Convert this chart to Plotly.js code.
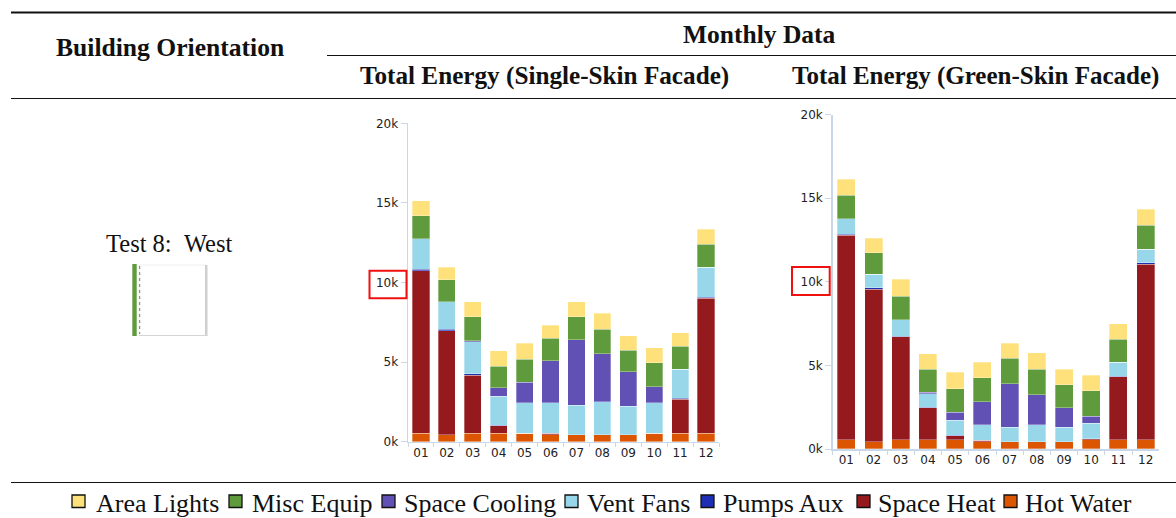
<!DOCTYPE html>
<html><head><meta charset="utf-8">
<script src="https://cdn.plot.ly/plotly-3.0.1.min.js"></script>
<style>html,body{margin:0;padding:0;background:#fff}#c{width:1176px;height:518px}</style>
</head><body><div id="c"></div>
<script>
const months = ['01','02','03','04','05','06','07','08','09','10','11','12'];
const yTickVals = [0,5000,10000,15000,20000];
const yTickText = ['0k','5k','10k','15k','20k'];
const seriesNames = ['Hot Water','Space Heat','Pumps Aux','Vent Fans','Space Cooling','Misc Equip','Area Lights'];
const seriesColors = ['#DC5500','#951A1D','#1F2FB5','#98D6E9','#6151B5','#5F9A3C','#FEE17B'];

// Single-skin facade
const hotWaterA   = [520,440,520,520,520,440,440,440,440,520,520,520];
const spaceHeatA  = [10220,6530,3670,480,0,80,0,0,0,0,2140,8480];
const pumpsAuxA   = [80,80,80,40,0,0,0,0,0,0,80,80];
const ventFansA   = [1930,1750,2010,1830,1930,1930,1860,2070,1800,1930,1800,1890];
const coolingA    = [0,0,60,520,1300,2620,4110,3020,2140,1010,0,0];
const miscEquipA  = [1450,1360,1510,1360,1440,1420,1440,1530,1380,1500,1450,1430];
const areaLightsA = [920,810,950,950,1010,840,950,1020,880,940,860,940];

// Green-skin facade
const hotWaterB   = [540,440,540,540,540,440,440,440,440,560,540,540];
const spaceHeatB  = [12240,9130,6180,1930,260,80,0,0,0,40,3790,10510];
const pumpsAuxB   = [80,80,20,20,20,0,0,0,0,0,20,80];
const ventFansB   = [920,800,980,820,910,940,860,1020,860,940,830,830];
const coolingB    = [0,0,0,80,460,1370,2590,1790,1170,410,0,0];
const miscEquipB  = [1410,1290,1430,1380,1420,1440,1530,1520,1360,1520,1380,1440];
const areaLightsB = [940,880,1020,930,990,910,920,990,940,940,940,940];

const legendOrder = ['Area Lights','Misc Equip','Space Cooling','Vent Fans','Pumps Aux','Space Heat','Hot Water'];
const legendSwatchX = [72,229,382,565,701,857,1004];
const legendTextX = [94,250,402,585,721,876,1023];

const W = 1176, H = 518;
const px = v => v / W, py = v => 1 - v / H;
const stackA = [hotWaterA,spaceHeatA,pumpsAuxA,ventFansA,coolingA,miscEquipA,areaLightsA];
const stackB = [hotWaterB,spaceHeatB,pumpsAuxB,ventFansB,coolingB,miscEquipB,areaLightsB];
const traces = [];
[[stackA,'x','y'],[stackB,'x2','y2']].forEach(([stack,xa,ya]) => {
  stack.forEach((vals,i) => traces.push({
    type:'bar', x:months, y:vals, name:seriesNames[i], xaxis:xa, yaxis:ya,
    marker:{color:seriesColors[i], line:{color:'rgba(255,255,255,0.45)', width:0.7}},
    showlegend:false, hoverinfo:'skip'
  }));
});

const axisCol = '#C9D7E8', tickFont = {family:'DejaVu Sans', size:12, color:'#222'};
const xAxisBase = {type:'category', categoryorder:'array', categoryarray:months, showgrid:false, zeroline:false,
  showline:true, linecolor:axisCol, linewidth:1.5, ticks:'outside', tickson:'boundaries', ticklen:4, tickcolor:axisCol,
  tickfont:tickFont, ticklabelstandoff:-1, fixedrange:true};
const yAxisBase = {range:[0,20000], tickmode:'array', tickvals:yTickVals, ticktext:yTickText, showgrid:false, zeroline:false,
  showline:true, linecolor:axisCol, linewidth:1.5, ticks:'outside', ticklen:6, tickcolor:axisCol,
  tickfont:tickFont, fixedrange:true};

const serif = 'Liberation Serif';
const label = (text,x,y,size,bold,anchor) => ({
  text: bold ? '<b>'+text+'</b>' : text, x:px(x), y:py(y), xref:'paper', yref:'paper',
  xanchor:anchor||'center', yanchor:'middle', showarrow:false,
  font:{family:serif, size:size, color:'#111'}
});
const line = (x0,x1,y,w,c) => ({type:'line', xref:'paper', yref:'paper', x0:px(x0), x1:px(x1), y0:py(y), y1:py(y), line:{color:c||'#111', width:w}});
const rect = (x0,x1,y0,y1,fill,lc,lw) => ({type:'rect', xref:'paper', yref:'paper', x0:px(x0), x1:px(x1), y0:py(y0), y1:py(y1),
  fillcolor:fill, line:{color:lc||'rgba(0,0,0,0)', width:lw||0}});

const annotations = [
  label('Building Orientation',169.5,47,25.6,true),
  label('Monthly Data',759,35,25.5,true),
  label('Total Energy (Single-Skin Facade)',544,76,25.2,true),
  label('Total Energy (Green-Skin Facade)',975,76,25,true),
  label('Test 8:&nbsp;&nbsp;West',169,244,24.5,false)
];
const shapes = [
  line(11,1176,12.5,2), line(327,1176,55.5,1.2), line(11,1176,98.5,1.2), line(11,1176,482.5,1.2),
  rect(369.5,406.5,270.7,298.3,'rgba(0,0,0,0)','#F01010',2),
  rect(792,829.7,267,295,'rgba(0,0,0,0)','#F01010',2),
  // facade thumbnail
  rect(139,206,265,335.5,'#FFFFFF','#EFEFEF',1),
  rect(205,207.5,265,336,'#CFCFCF'),
  rect(139,207.5,335,336,'#D4D4D4'),
  {type:'line', xref:'paper', yref:'paper', x0:px(139.7), x1:px(139.7), y0:py(266), y1:py(334), line:{color:'#777', width:1, dash:'dot'}},
  rect(132.3,136.7,264,336,'#5F9A3C')
];
legendOrder.forEach((name,i) => {
  const c = seriesColors[seriesNames.indexOf(name)];
  shapes.push(rect(legendSwatchX[i],legendSwatchX[i]+13,495,507.5,c,'#111',1.3));
  annotations.push(label(name,legendTextX[i],503,26,false,'left'));
});

const layout = {
  width:W, height:H, autosize:false, margin:{l:0,r:0,t:0,b:0}, paper_bgcolor:'#fff', plot_bgcolor:'#fff',
  barmode:'stack', bargap:0.34, showlegend:false,
  xaxis: Object.assign({}, xAxisBase, {domain:[px(408),px(719)], anchor:'y'}),
  yaxis: Object.assign({}, yAxisBase, {domain:[py(441.7),py(123.3)], anchor:'x'}),
  xaxis2: Object.assign({}, xAxisBase, {domain:[px(832.7),px(1159.3)], anchor:'y2'}),
  yaxis2: Object.assign({}, yAxisBase, {domain:[py(449),py(114.7)], anchor:'x2'}),
  annotations, shapes
};
Plotly.newPlot('c', traces, layout, {displayModeBar:false, staticPlot:true});
</script></body></html>
